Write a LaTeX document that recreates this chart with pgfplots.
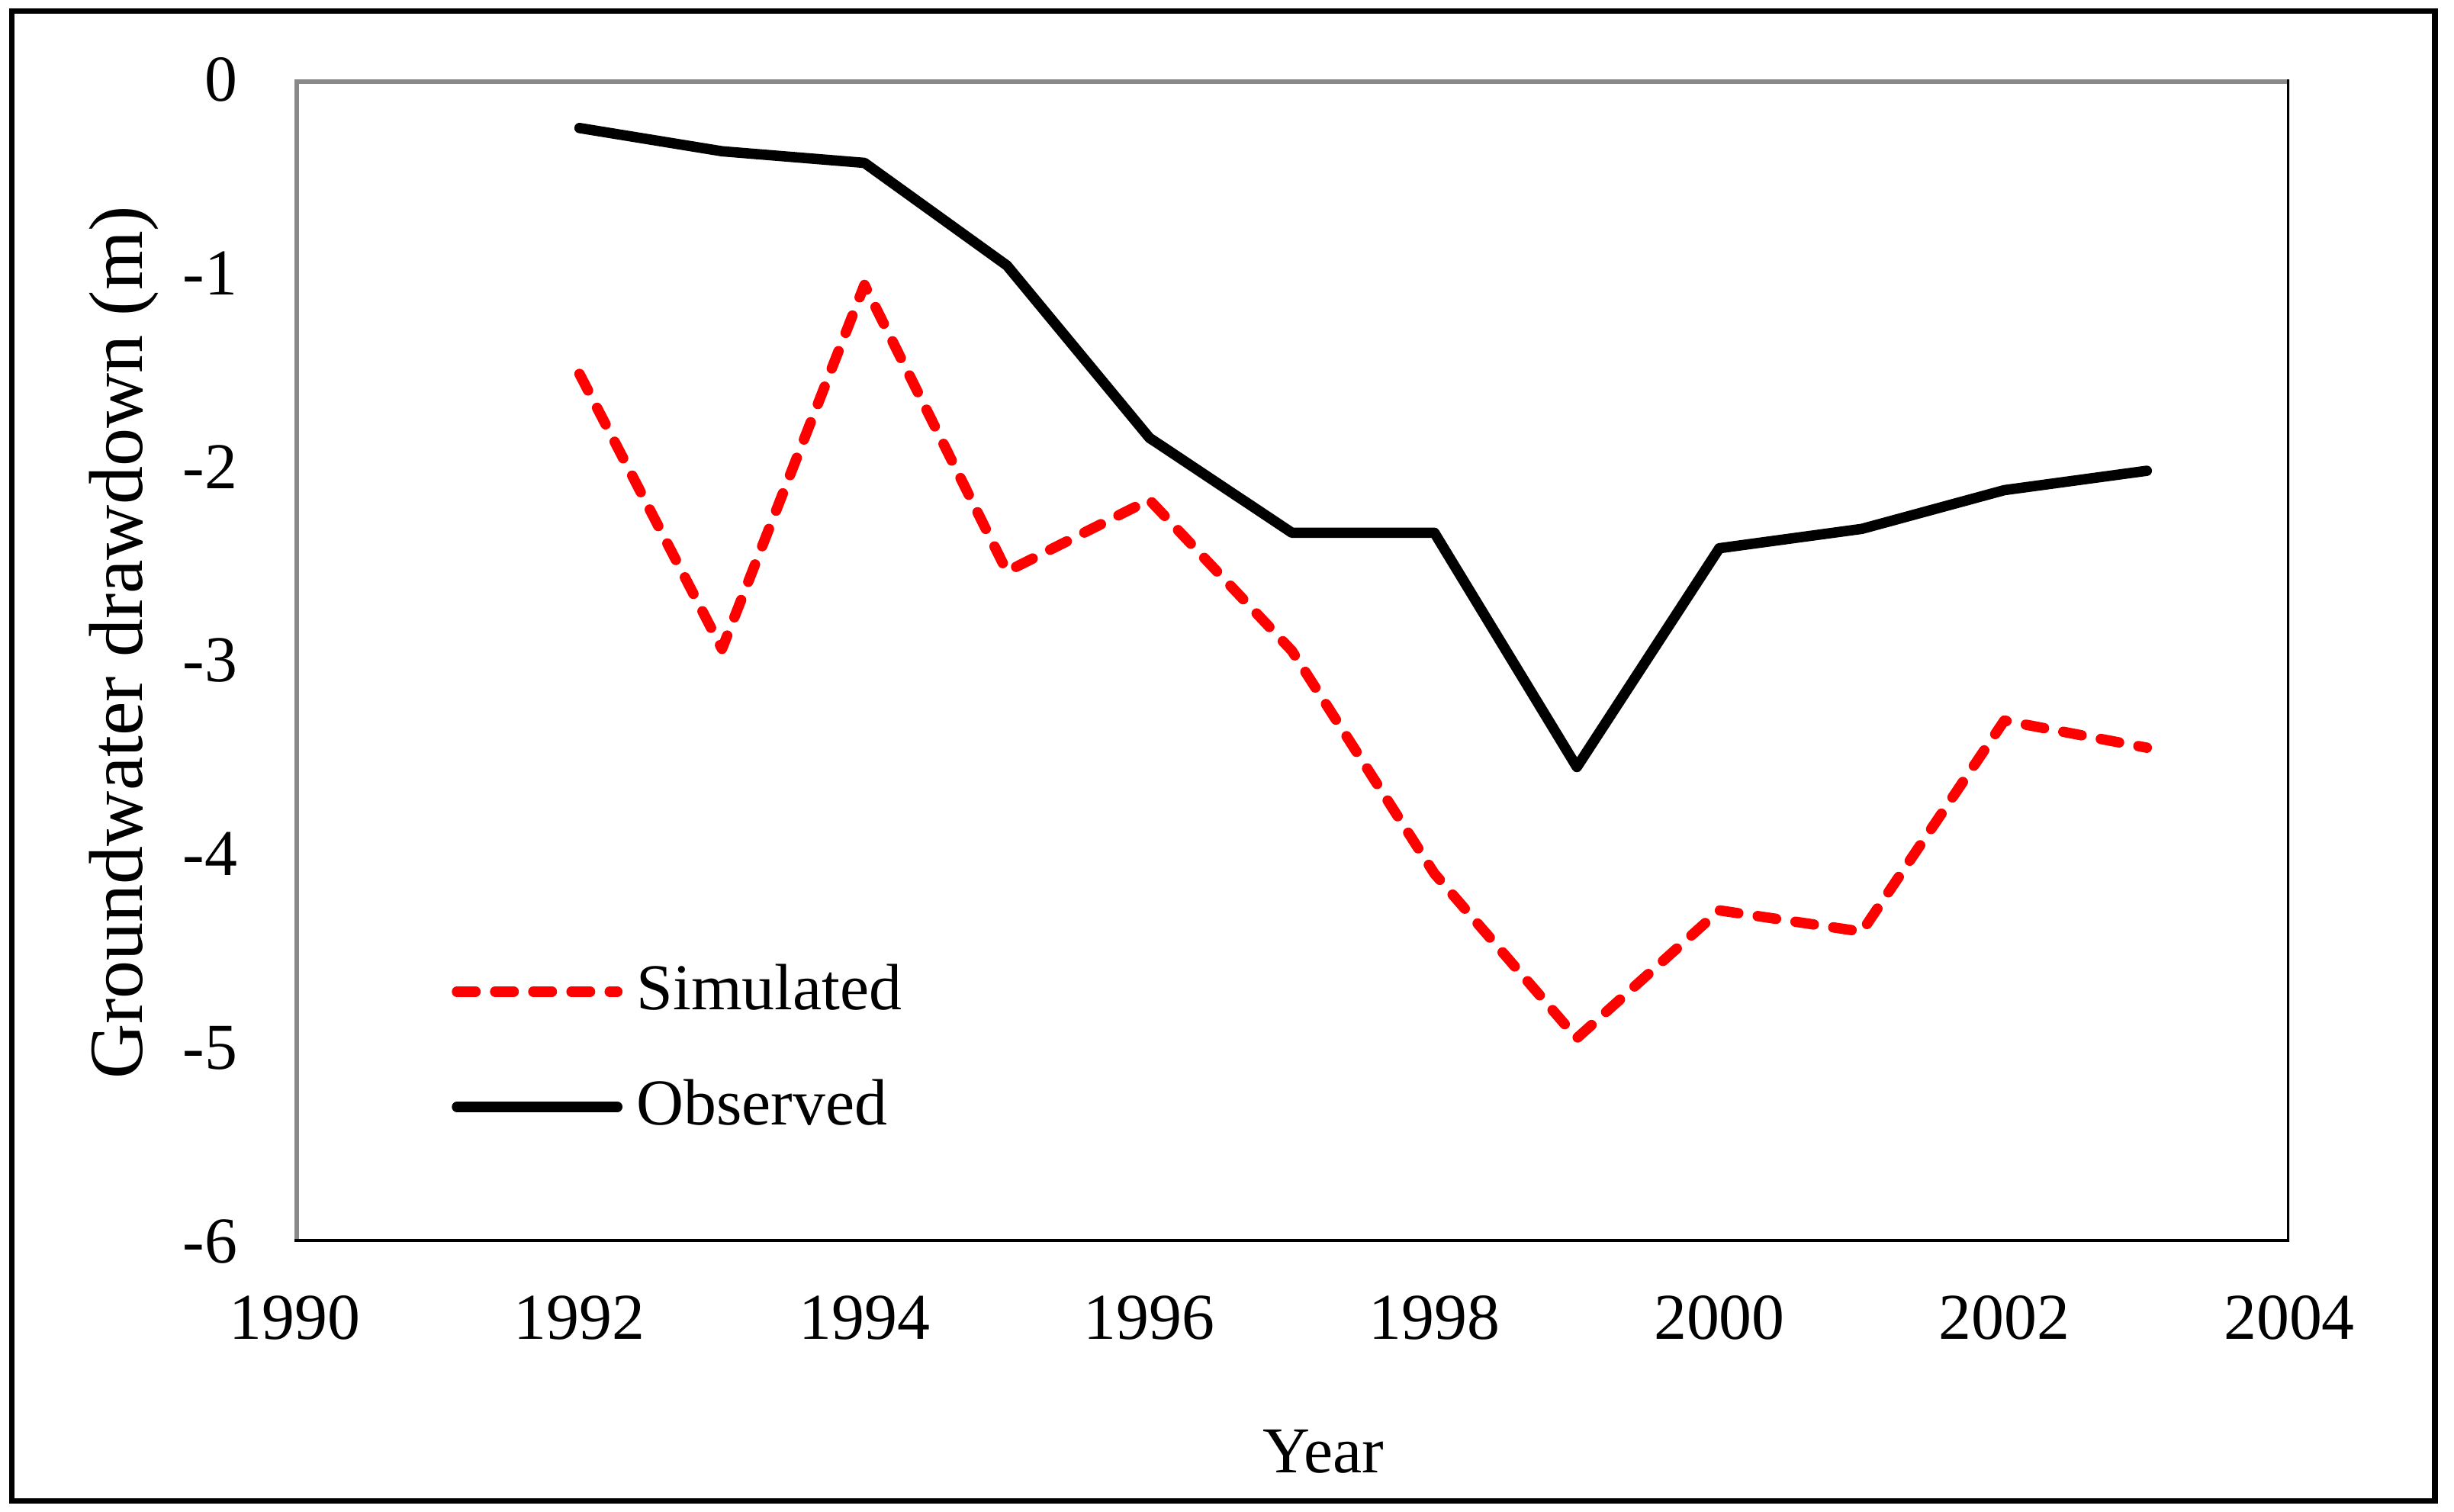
\documentclass[border=0pt]{standalone}
\usepackage{fontspec}
\setmainfont{Liberation Serif}
\usepackage{pgfplots}
\pgfplotsset{compat=1.18}
\definecolor{axgray}{RGB}{137,137,137}
\definecolor{simred}{RGB}{255,0,0}

\begin{document}
\fontsize{12}{14.4}\selectfont
\begin{tikzpicture}
% page size: whole reference image, axis box origin at (0,0)
\path (-54pt,-49.5pt) rectangle (395.9pt,227.6pt);
\begin{axis}[
  at={(0,0)}, anchor=south west,
  scale only axis,
  width=365.7pt, height=213pt,
  xmin=1990, xmax=2004,
  ymin=-6, ymax=0,
  xtick={1990,1992,...,2004},
  ytick={-6,-5,...,0},
  major tick length=0pt,
  axis line style={draw=none},
  /pgf/number format/assume math mode=true,
  /pgf/number format/1000 sep={},
  xticklabel style={yshift=-5.8pt},
  yticklabel style={xshift=-6.3pt},
  xlabel={Year},
  xlabel style={at={(axis cs:1997.22,-7.194)}, anchor=base},
  ylabel={Groundwater drawdown (m)},
  ylabel style={at={(axis cs:1988.80,-2.907)}, anchor=center,
    font=\fontsize{14}{16.8}\selectfont},
  legend cell align=left,
  legend image code/.code={\draw[#1] (0pt,0pt) -- (29.4pt,0pt);},
  legend style={draw=none, fill=none, inner sep=0pt,
    at={(axis cs:1991.096,-5.007)}, anchor=west,
    row sep=11pt, column sep=2.6pt, nodes={inner sep=0pt}},
]
\addplot[simred, mark=none, line width=1.9pt, line cap=round, line join=round,
  dash pattern=on 3.4pt off 3.6pt] coordinates {
  (1992,-1.52) (1993,-2.94) (1994,-1.06) (1995,-2.54) (1996,-2.17)
  (1997,-2.95) (1998,-4.10) (1999,-4.95) (2000,-4.29) (2001,-4.40)
  (2002,-3.31) (2003,-3.45)
};
\addlegendentry{Simulated}
\addplot[black, mark=none, line width=1.9pt, line cap=round, line join=round] coordinates {
  (1992,-0.25) (1993,-0.37) (1994,-0.43) (1995,-0.96) (1996,-1.85)
  (1997,-2.34) (1998,-2.34) (1999,-3.55) (2000,-2.42) (2001,-2.32)
  (2002,-2.12) (2003,-2.02)
};
\addlegendentry{Observed}
% plot area border: grey top and left, black right and bottom
\draw[axgray, line width=1.6pt] (rel axis cs:0,0) -- (rel axis cs:0,1) -- (rel axis cs:1,1);
\draw[black, line width=0.9pt] (rel axis cs:1,1) -- (rel axis cs:1,0) -- (rel axis cs:0,0);
\end{axis}
% chart frame
\draw[line width=1pt] (-51.8pt,-47.6pt) rectangle (392.4pt,225.6pt);
\end{tikzpicture}
\end{document}
